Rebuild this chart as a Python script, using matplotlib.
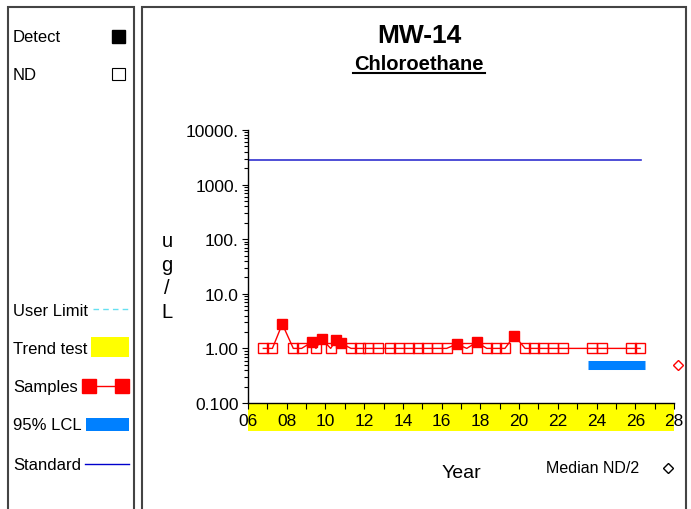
import matplotlib
matplotlib.use("Agg")
import matplotlib.pyplot as plt
from matplotlib.patches import Rectangle
from matplotlib.lines import Line2D
from matplotlib.ticker import FixedLocator, FixedFormatter, MultipleLocator, LogLocator, NullFormatter

plt.rcParams['font.family'] = ['Liberation Sans', 'DejaVu Sans']

# ---- data ----
sample_years = [6.79, 7.26, 7.77, 8.34, 8.77, 9.29, 9.51, 9.80, 10.27, 10.55, 10.79,
                11.32, 11.79, 12.22, 12.73, 13.33, 13.82, 14.33, 14.80, 15.26, 15.78,
                16.26, 16.78, 17.30, 17.81, 18.33, 18.81, 19.27, 19.76, 20.31, 20.78,
                21.25, 21.77, 22.25, 23.78, 24.27, 25.77, 26.25]
sample_values = [1.0, 1.0, 2.8, 1.0, 1.0, 1.3, 1.0, 1.5, 1.0, 1.42, 1.25,
                 1.0, 1.0, 1.0, 1.0, 1.0, 1.0, 1.0, 1.0, 1.0, 1.0,
                 1.0, 1.2, 1.0, 1.3, 1.0, 1.0, 1.0, 1.72, 1.0, 1.0,
                 1.0, 1.0, 1.0, 1.0, 1.0, 1.0, 1.0]
sample_detect = [0, 0, 1, 0, 0, 1, 0, 1, 0, 1, 1,
                 0, 0, 0, 0, 0, 0, 0, 0, 0, 0,
                 0, 1, 0, 1, 0, 0, 0, 1, 0, 0,
                 0, 0, 0, 0, 0, 0, 0]
standard_years = [6.0, 26.3]
standard_value = 2850.0
lcl_years = [23.54, 26.5]
lcl_value = 0.5
median_nd2_year = 28.2
median_nd2_value = 0.5
x_ticks = [6, 8, 10, 12, 14, 16, 18, 20, 22, 24, 26, 28]
x_tick_labels = ["06", "08", "10", "12", "14", "16", "18", "20", "22", "24", "26", "28"]
y_ticks = [0.1, 1, 10, 100, 1000, 10000]
y_tick_labels = ["0.100", "1.00", "10.0", "100.", "1000.", "10000."]

W, H = 691, 510
fig = plt.figure(figsize=(W / 100, H / 100), dpi=100)

def fx(px):
    return px / W

def fy(py):
    return 1 - py / H

# ---- panel borders ----
for x0, x1 in [(8, 134), (142, 686)]:
    fig.patches.append(Rectangle((fx(x0), fy(530)), fx(x1) - fx(x0), fy(8) - fy(530),
                                 transform=fig.transFigure, fill=False,
                                 edgecolor='#444444', lw=1.5))

# ---- axes ----
ax = fig.add_axes([fx(248), fy(404), fx(674) - fx(248), fy(131) - fy(404)])
ax.set_yscale('log')
ax.set_xlim(6, 28)
ax.set_ylim(0.1, 10000)
for s in ['top', 'right']:
    ax.spines[s].set_visible(False)
ax.spines['left'].set_linewidth(1.0)
ax.spines['bottom'].set_linewidth(1.0)

ax.xaxis.set_major_locator(FixedLocator(x_ticks))
ax.xaxis.set_major_formatter(FixedFormatter(x_tick_labels))
ax.xaxis.set_minor_locator(MultipleLocator(1))
ax.yaxis.set_major_locator(FixedLocator(y_ticks))
ax.yaxis.set_major_formatter(FixedFormatter(y_tick_labels))
ax.yaxis.set_minor_locator(LogLocator(base=10, subs=range(2, 10)))
ax.yaxis.set_minor_formatter(NullFormatter())
ax.tick_params(axis='x', which='both', direction='out', length=4, width=0.8,
               labelsize=12.5, pad=3)
ax.tick_params(axis='y', which='major', direction='out', length=4.5, width=0.8,
               labelsize=12.5, pad=2)
ax.tick_params(axis='y', which='minor', direction='out', length=3, width=0.8)

# yellow trend band under the x axis
ax.add_patch(Rectangle((0, -28 / 273), 1, 28 / 273, transform=ax.transAxes,
                       facecolor='#ffff00', edgecolor='none', clip_on=False, zorder=0))

# standard line
ax.plot(standard_years, [standard_value] * len(standard_years), color='#3030d0', lw=1.2)

# samples
ax.plot(sample_years, sample_values, color='#ff0000', lw=1.0, zorder=3)
for xv, yv, d in zip(sample_years, sample_values, sample_detect):
    if d:
        ax.plot(xv, yv, marker='s', ms=7.5, mfc='#ff0000', mec='#ff0000', zorder=4)
    else:
        ax.plot(xv, yv, marker='s', ms=7.5, mfc='none', mec='#ff0000', mew=1.0, zorder=4)

# 95% LCL
ax.plot(lcl_years, [lcl_value] * len(lcl_years), color='#0080ff', lw=6.5,
        solid_capstyle='butt', zorder=3)

# median ND/2
ax.plot(median_nd2_year, median_nd2_value, marker='D', ms=5.5, mfc='none',
        mec='#ff0000', mew=1.0, clip_on=False)

# ---- titles and labels ----
fig.text(fx(419), fy(36), "MW-14", ha='center', va='center', fontsize=19, fontweight='bold')
fig.text(fx(419), fy(64), "Chloroethane", ha='center', va='center', fontsize=14.5,
         fontweight='bold')
fig.add_artist(Line2D([fx(353), fx(485)], [fy(73.5), fy(73.5)], color='black', lw=1.5))
fig.text(fx(167), fy(277), "u\ng\n/\nL", ha='center', va='center', fontsize=14.5,
         linespacing=1.3)
fig.text(fx(461), fy(474), "Year", ha='center', va='center', fontsize=14)
fig.text(fx(593), fy(469), "Median ND/2", ha='center', va='center', fontsize=11.5)
fig.add_artist(Line2D([fx(668)], [fy(469)], marker='D', ms=5.5, mfc='none',
                      mec='black', mew=1.0))

# ---- left legend panel ----
lfs = 12
fig.text(fx(13), fy(38), "Detect", ha='left', va='center', fontsize=lfs)
fig.patches.append(Rectangle((fx(112), fy(44)), fx(125) - fx(112), fy(31) - fy(44),
                             transform=fig.transFigure, facecolor='black', edgecolor='black'))
fig.text(fx(13), fy(76), "ND", ha='left', va='center', fontsize=lfs)
fig.patches.append(Rectangle((fx(112), fy(81)), fx(125) - fx(112), fy(69) - fy(81),
                             transform=fig.transFigure, facecolor='white', edgecolor='black',
                             lw=0.8))

fig.text(fx(13), fy(311), "User Limit", ha='left', va='center', fontsize=lfs)
fig.add_artist(Line2D([fx(93), fx(129)], [fy(310), fy(310)], color='#66e0f0', lw=1.0,
                      dashes=(4, 3)))
fig.text(fx(13), fy(349), "Trend test", ha='left', va='center', fontsize=lfs)
fig.patches.append(Rectangle((fx(91), fy(358)), fx(129) - fx(91), fy(338) - fy(358),
                             transform=fig.transFigure, facecolor='#ffff00', edgecolor='none'))
fig.text(fx(13), fy(388), "Samples", ha='left', va='center', fontsize=lfs)
fig.add_artist(Line2D([fx(89), fx(122)], [fy(387), fy(387)], color='#ff0000', lw=1.0))
fig.add_artist(Line2D([fx(89), fx(122)], [fy(387), fy(387)], color='#ff0000', lw=0,
                      marker='s', ms=10, mfc='#ff0000', mec='#ff0000'))
fig.text(fx(13), fy(426), "95% LCL", ha='left', va='center', fontsize=lfs)
fig.patches.append(Rectangle((fx(86), fy(432)), fx(129) - fx(86), fy(419) - fy(432),
                             transform=fig.transFigure, facecolor='#0080ff', edgecolor='none'))
fig.text(fx(13), fy(466), "Standard", ha='left', va='center', fontsize=lfs)
fig.add_artist(Line2D([fx(85), fx(129)], [fy(465), fy(465)], color='#0000cc', lw=1.0))

fig.savefig("out.png", dpi=100)
